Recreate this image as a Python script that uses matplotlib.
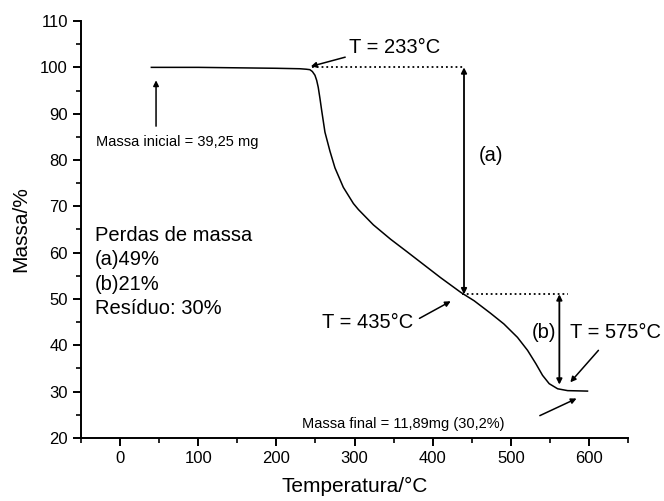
import matplotlib
matplotlib.use("Agg")
import matplotlib.pyplot as plt
from matplotlib.ticker import MultipleLocator

plt.rcParams["font.family"] = ["Liberation Sans", "DejaVu Sans"]

# TGA curve
temperatura = [40, 100, 200, 230, 238, 242.8, 246, 249.3, 251.5, 253.5, 255.7, 257.9, 262.1,
               268.5, 274.9, 285.6, 298.5, 304.9, 324, 346, 367, 388.5, 410, 436, 453,
               474, 491, 508.4, 521.3, 532, 540.5, 549, 559.8, 572.6, 598]
massa = [100, 100, 99.8, 99.7, 99.6, 99.5, 99.1, 98.3, 97.2, 95.7, 93.3, 90.7, 86.0,
         81.9, 78.3, 74.1, 70.6, 69.3, 66.0, 62.9, 60.2, 57.4, 54.6, 51.4, 49.6,
         46.9, 44.6, 41.7, 38.9, 36.0, 33.5, 31.7, 30.6, 30.2, 30.1]

perdas = ["Perdas de massa", "(a)49%", "(b)21%", "Resíduo: 30%"]

fig = plt.figure(figsize=(6.64, 5.01), dpi=100)
ax = fig.add_axes([0.122, 0.126, 0.824, 0.832])

ax.plot(temperatura, massa, color="black", lw=1.1)

ax.set_xlim(-50, 650)
ax.set_ylim(20, 110)
ax.xaxis.set_major_locator(MultipleLocator(100))
ax.xaxis.set_minor_locator(MultipleLocator(50))
ax.yaxis.set_major_locator(MultipleLocator(10))
ax.yaxis.set_minor_locator(MultipleLocator(5))
ax.set_xticks(range(0, 700, 100))
ax.spines["top"].set_visible(False)
ax.spines["right"].set_visible(False)
for s in ("left", "bottom"):
    ax.spines[s].set_linewidth(1.4)
ax.tick_params(which="major", direction="out", length=6, width=1.4, labelsize=12)
ax.tick_params(which="minor", direction="out", length=3.5, width=1.2)
ax.set_xlabel("Temperatura/°C", fontsize=15, labelpad=8)
ax.set_ylabel("Massa/%", fontsize=15, labelpad=7)

# dotted guides and loss arrows
ax.plot([245, 440], [100, 100], ls=":", color="black", lw=1.3)
ax.plot([437, 573], [51, 51], ls=":", color="black", lw=1.3)
arrow = dict(arrowstyle="<|-|>", color="black", lw=1.3, mutation_scale=8, shrinkA=0, shrinkB=0)
ax.annotate("", xy=(440, 100), xytext=(440, 51), arrowprops=arrow)
ax.annotate("", xy=(562, 51), xytext=(562, 31.5), arrowprops=arrow)
ax.text(474, 81, "(a)", fontsize=14.5, ha="center", va="center")
ax.text(542, 42.8, "(b)", fontsize=14.5, ha="center", va="center")

pointer = dict(arrowstyle="-|>", color="black", lw=1.1, mutation_scale=8, shrinkA=0, shrinkB=0)
ax.text(293, 104.3, "T = 233°C", fontsize=14.5, va="center")
ax.annotate("", xy=(244, 100.2), xytext=(288, 102.2), arrowprops=pointer)
ax.text(258, 44.9, "T = 435°C", fontsize=14.5, va="center")
ax.annotate("", xy=(423, 49.5), xytext=(383, 45.8), arrowprops=pointer)
ax.text(576, 42.8, "T = 575°C", fontsize=14.5, va="center")
ax.annotate("", xy=(576, 32), xytext=(612, 38.9), arrowprops=pointer)
ax.text(-31, 83.8, "Massa inicial = 39,25 mg", fontsize=10.5, va="center")
ax.annotate("", xy=(46, 97.2), xytext=(46, 87.3), arrowprops=pointer)
ax.text(233, 23.1, "Massa final = 11,89mg (30,2%)", fontsize=10.5, va="center")
ax.annotate("", xy=(584, 28.5), xytext=(537, 24.8), arrowprops=pointer)

for i, linha in enumerate(perdas):
    ax.text(-32, 63.7 - i * 5.25, linha, fontsize=14.5, va="center")

fig.savefig("out.png", dpi=100)
